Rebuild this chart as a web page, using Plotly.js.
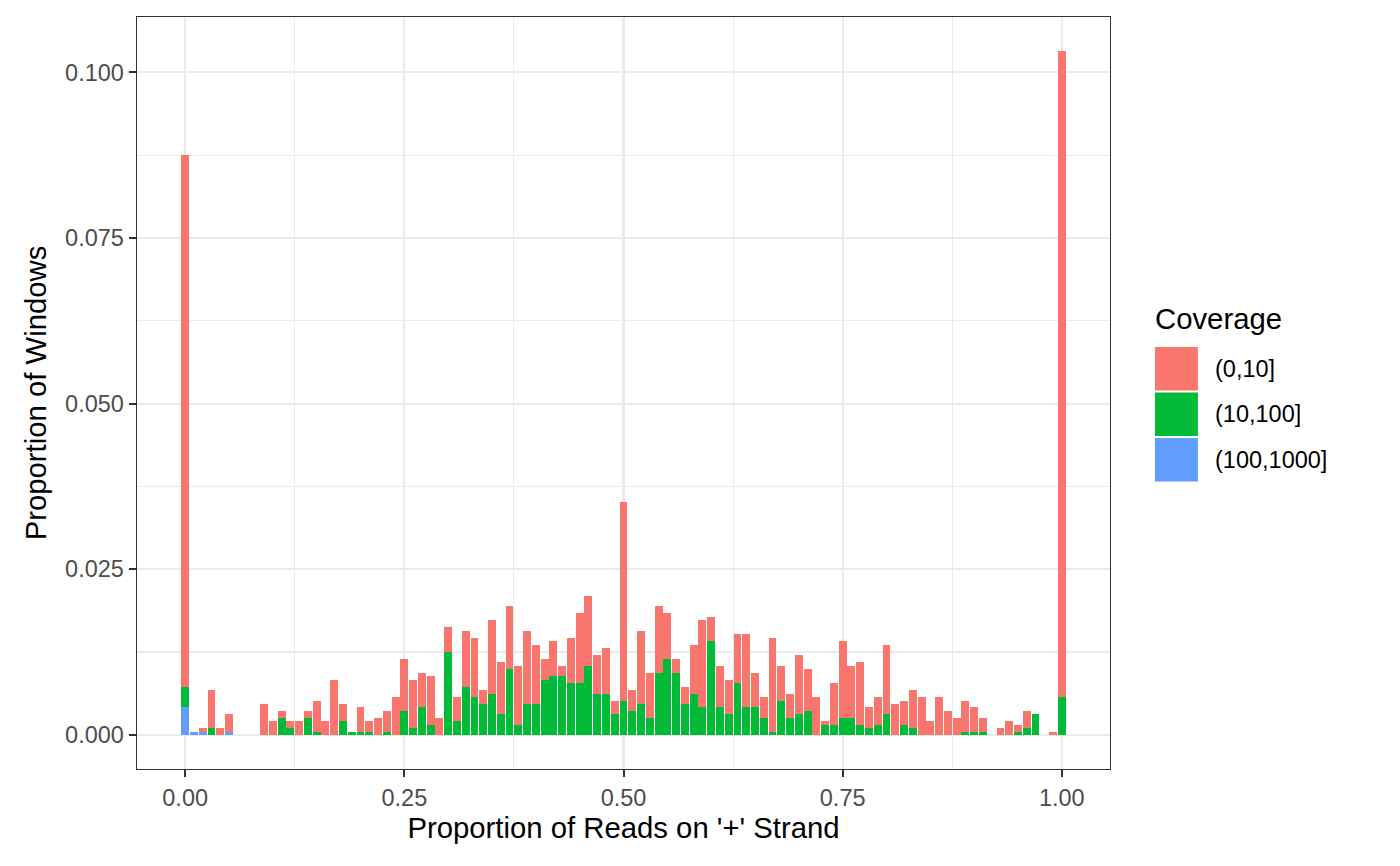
<!DOCTYPE html>
<html>
<head>
<meta charset="utf-8">
<script src="https://cdn.plot.ly/plotly-3.0.1.min.js"></script>
<style>
  html, body { margin: 0; padding: 0; background: #ffffff; }
  #chart { width: 1400px; height: 866px; }
</style>
</head>
<body>
<div id="chart"></div>
<script>
// Bin centres: proportion of reads on '+' strand
const binCentres = [
  0.00,0.01,0.02,0.03,0.04,0.05,0.06,0.07,0.08,0.09,
  0.10,0.11,0.12,0.13,0.14,0.15,0.16,0.17,0.18,0.19,
  0.20,0.21,0.22,0.23,0.24,0.25,0.26,0.27,0.28,0.29,
  0.30,0.31,0.32,0.33,0.34,0.35,0.36,0.37,0.38,0.39,
  0.40,0.41,0.42,0.43,0.44,0.45,0.46,0.47,0.48,0.49,
  0.50,0.51,0.52,0.53,0.54,0.55,0.56,0.57,0.58,0.59,
  0.60,0.61,0.62,0.63,0.64,0.65,0.66,0.67,0.68,0.69,
  0.70,0.71,0.72,0.73,0.74,0.75,0.76,0.77,0.78,0.79,
  0.80,0.81,0.82,0.83,0.84,0.85,0.86,0.87,0.88,0.89,
  0.90,0.91,0.92,0.93,0.94,0.95,0.96,0.97,0.98,0.99,
  1.00
];

// Coverage levels (legend order)
const coverageLevels = ["(0,10]", "(10,100]", "(100,1000]"];
const coverageColours = ["#F8766D", "#00BA38", "#619CFF"];

// Proportion of windows, coverage (100,1000]
const cov100to1000 = [
  0.00423,0.00045,0.00045,0,0,0.00045,0,0,0,0,
  0,0,0,0,0,0,0,0,0,0,
  0,0,0,0,0,0,0,0,0,0,
  0,0,0,0,0,0,0,0,0,0,
  0,0,0,0,0,0,0,0,0,0,
  0,0,0,0,0,0,0,0,0,0,
  0,0,0,0,0,0,0,0,0,0,
  0,0,0,0,0,0,0,0,0,0,
  0,0,0,0,0,0,0,0,0,0,
  0,0,0,0,0,0,0,0,0,0,
  0
];

// Proportion of windows, coverage (10,100]
const cov10to100 = [
  0.00302,0,0,0.00106,0,0,0,0,0,0,
  0,0.00257,0.00106,0,0.00257,0.00045,0,0,0.00211,0.00045,
  0.00045,0.00045,0,0.00045,0,0.00363,0.00106,0.00423,0.00151,0,
  0.01254,0.00211,0.00725,0.00574,0.00468,0.00619,0.00317,0.00997,0.00151,0.00468,
  0.00468,0.00831,0.00891,0.00891,0.00785,0.00785,0.01042,0.00619,0.00619,0.00317,
  0.00514,0.00363,0.00468,0.00257,0.00937,0.01148,0.00937,0.00468,0.00619,0.00423,
  0.01420,0.00423,0.00317,0.00785,0.00423,0.00423,0.00257,0.00045,0.00514,0.00257,
  0.00317,0.00363,0,0.00151,0.00151,0.00257,0.00257,0.00151,0.00106,0.00151,
  0.00317,0,0.00151,0.00106,0,0,0,0,0,0.00045,
  0.00045,0.00045,0,0,0,0.00045,0.00106,0.00317,0,0,
  0.00574
];

// Proportion of windows, coverage (0,10]
const cov0to10 = [
  0.08021,0,0.00060,0.00574,0.00106,0.00272,0,0,0,0.00468,
  0.00211,0.00106,0.00106,0.00211,0.00106,0.00468,0.00211,0.00831,0.00257,0,
  0.00378,0.00166,0.00257,0.00317,0.00574,0.00785,0.00725,0.00514,0.00740,0.00257,
  0.00378,0.00363,0.00846,0.00891,0.00211,0.01118,0.00785,0.00952,0.00891,0.01103,
  0.00891,0.00317,0.00529,0.00151,0.00680,0.01057,0.01057,0.00589,0.00695,0.00196,
  0.03006,0.00317,0.01103,0.00680,0.01012,0.00695,0.00211,0.00257,0.00740,0.01314,
  0.00363,0.00619,0.00514,0.00740,0.01103,0.00514,0.00317,0.01420,0.00529,0.00363,
  0.00891,0.00634,0.00574,0.00060,0.00634,0.01163,0.00785,0.00952,0.00317,0.00423,
  0.01042,0.00468,0.00363,0.00574,0.00574,0.00211,0.00574,0.00363,0.00257,0.00468,
  0.00378,0.00211,0,0.00106,0.00211,0.00106,0.00257,0,0,0.00045,
  0.09743
];

const xTickVals = [0, 0.25, 0.5, 0.75, 1.0];
const xTickText = ["0.00", "0.25", "0.50", "0.75", "1.00"];
const yTickVals = [0, 0.025, 0.05, 0.075, 0.1];
const yTickText = ["0.000", "0.025", "0.050", "0.075", "0.100"];

// ---- layout geometry ----
const W = 1400, H = 866;
const M = { l: 136.5, r: 289.5, t: 17, b: 97 };
const plotW = W - M.l - M.r, plotH = H - M.t - M.b;
const px2x = p => (p - M.l) / plotW;
const px2y = p => (H - M.b - p) / plotH;

const FONT = "Liberation Sans, Arial, Helvetica, sans-serif";

function barTrace(vals, name, colour) {
  return {
    type: "bar",
    x: binCentres,
    y: vals,
    name: name,
    width: 0.009,
    marker: { color: colour, line: { width: 0 } },
    showlegend: false,
    hovertemplate: name + "<br>%{x}: %{y}<extra></extra>"
  };
}

const data = [
  barTrace(cov100to1000, coverageLevels[2], coverageColours[2]),
  barTrace(cov10to100, coverageLevels[1], coverageColours[1]),
  barTrace(cov0to10, coverageLevels[0], coverageColours[0])
];

// Legend drawn manually (ggplot-style large keys)
const shapes = [];
const annotations = [];
const keyTops = [347, 392.5, 438];
const keyH = 43.5;
coverageLevels.forEach((lvl, i) => {
  shapes.push({
    type: "rect", xref: "paper", yref: "paper",
    x0: px2x(1155.5), x1: px2x(1198.5),
    y0: px2y(keyTops[i] + keyH), y1: px2y(keyTops[i]),
    fillcolor: coverageColours[i], line: { width: 0 }
  });
  annotations.push({
    xref: "paper", yref: "paper",
    x: px2x(1214), y: px2y(keyTops[i] + keyH / 2),
    xanchor: "left", yanchor: "middle", showarrow: false,
    text: lvl, font: { family: FONT, size: 23.5, color: "#000000" }
  });
});
annotations.push({
  xref: "paper", yref: "paper",
  x: px2x(1154), y: px2y(318),
  xanchor: "left", yanchor: "middle", showarrow: false,
  text: "Coverage", font: { family: FONT, size: 29.3, color: "#000000" }
});

const layout = {
  width: W, height: H,
  margin: M,
  paper_bgcolor: "#ffffff",
  plot_bgcolor: "#ffffff",
  barmode: "stack",
  bargap: 0,
  showlegend: false,
  font: { family: FONT },
  xaxis: {
    range: [-0.05495, 1.05495],
    tickmode: "array", tickvals: xTickVals, ticktext: xTickText,
    ticks: "outside", ticklen: 7, tickwidth: 2, tickcolor: "#333333",
    tickfont: { family: FONT, size: 23.5, color: "#4D4D4D" },
    showgrid: true, gridcolor: "#EBEBEB", gridwidth: 2.2,
    minor: { tickvals: [0.125, 0.375, 0.625, 0.875], showgrid: true, gridcolor: "#EBEBEB", gridwidth: 1.1, ticks: "" },
    zeroline: false,
    showline: true, mirror: true, linecolor: "#333333", linewidth: 1.4,
    automargin: false,
    title: { text: "Proportion of Reads on '+' Strand", font: { family: FONT, size: 29.3, color: "#000000" }, standoff: 8 }
  },
  yaxis: {
    range: [-0.00516, 0.10836],
    tickmode: "array", tickvals: yTickVals, ticktext: yTickText,
    ticks: "outside", ticklen: 7, tickwidth: 2, tickcolor: "#333333",
    tickfont: { family: FONT, size: 23.5, color: "#4D4D4D" },
    showgrid: true, gridcolor: "#EBEBEB", gridwidth: 2.2,
    minor: { tickvals: [0.0125, 0.0375, 0.0625, 0.0875], showgrid: true, gridcolor: "#EBEBEB", gridwidth: 1.1, ticks: "" },
    zeroline: false,
    showline: true, mirror: true, linecolor: "#333333", linewidth: 1.4,
    automargin: false,
    title: { text: "Proportion of Windows", font: { family: FONT, size: 29.3, color: "#000000" }, standoff: 10 }
  },
  shapes: shapes,
  annotations: annotations
};

Plotly.newPlot("chart", data, layout, { displayModeBar: false, staticPlot: true });
</script>
</body>
</html>
